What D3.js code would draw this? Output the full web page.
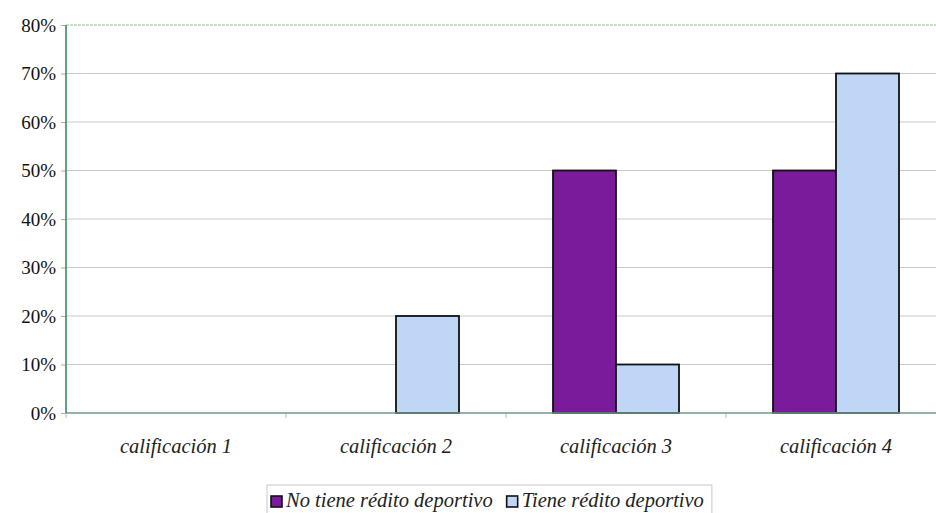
<!DOCTYPE html>
<html><head><meta charset="utf-8">
<script src="https://cdn.jsdelivr.net/npm/d3@7"></script>
<style>html,body{margin:0;padding:0;background:#fff;overflow:hidden}</style>
</head><body>
<svg id="c" width="936" height="513"></svg>
<script>
const categories = ["calificación 1","calificación 2","calificación 3","calificación 4"];
const seriesNames = ["No tiene rédito deportivo","Tiene rédito deportivo"];
const noTiene = [0, 0, 0.5, 0.5];
const tiene = [0, 0.2, 0.1, 0.7];
const yTicks = [0,0.1,0.2,0.3,0.4,0.5,0.6,0.7,0.8];
const colors = ["#7a1b9c","#bfd6f6"];

const svg = d3.select("#c");
const L = 66, R = 946, T = 25, B = 413;
const font = "'Liberation Serif','Times New Roman',serif";

const x = d3.scaleBand().domain(categories).range([L,R]).paddingInner(94/220).paddingOuter(47/220);
const xs = d3.scaleBand().domain(seriesNames).range([0,x.bandwidth()]);
const y = d3.scaleLinear().domain([0,0.8]).range([B,T]);

// gridlines
svg.append("g").selectAll("line").data(yTicks.filter(d=>d>0 && d<0.8)).join("line")
  .attr("x1",L).attr("x2",R).attr("y1",d=>y(d)).attr("y2",d=>y(d))
  .attr("stroke","#c9c9c9").attr("stroke-width",1);
// top border
svg.append("line").attr("x1",L).attr("x2",R).attr("y1",y(0.8)).attr("y2",y(0.8))
  .attr("stroke","#8fc08f").attr("stroke-width",1.2).attr("stroke-dasharray","3,1");

// y axis
const yAxis = d3.axisLeft(y).tickValues(yTicks).tickFormat(d3.format(".0%")).tickSize(5).tickPadding(5);
const gy = svg.append("g").attr("transform",`translate(${L},0)`).call(yAxis);
gy.select(".domain").remove();
gy.selectAll(".tick line").attr("stroke","#aaa");
gy.selectAll(".tick text").attr("font-family",font).attr("font-size",19).attr("fill","#111").attr("dy","0.33em");

// bars
const data = categories.map((c,i)=>({c, vals:[noTiene[i], tiene[i]]}));
const groups = svg.append("g").selectAll("g").data(data).join("g")
  .attr("transform",d=>`translate(${x(d.c)},0)`);
groups.selectAll("rect").data(d=>d.vals.map((v,j)=>({v,j}))).join("rect")
  .filter(d=>d.v>0)
  .attr("x",d=>xs(seriesNames[d.j])).attr("width",xs.bandwidth())
  .attr("y",d=>y(d.v)).attr("height",d=>y(0)-y(d.v))
  .attr("fill",d=>colors[d.j]).attr("stroke","#111").attr("stroke-width",1.8);

// x axis
const step = x.step();
const boundaries = categories.map((c,i)=>L + i*step);
svg.append("g").selectAll("line").data(boundaries).join("line")
  .attr("x1",d=>d).attr("x2",d=>d).attr("y1",B).attr("y2",B+5).attr("stroke","#bbb");
svg.append("line").attr("x1",L).attr("x2",R).attr("y1",B).attr("y2",B).attr("stroke","#6f9a8a").attr("stroke-width",1.5);
svg.append("line").attr("x1",L).attr("x2",L).attr("y1",T).attr("y2",B).attr("stroke","#3d8a60").attr("stroke-width",1.6);

svg.append("g").selectAll("text").data(categories).join("text")
  .attr("x",d=>x(d)+x.bandwidth()/2).attr("y",453)
  .attr("text-anchor","middle").attr("font-family",font).attr("font-style","italic")
  .attr("font-size",20.5).attr("fill","#222").text(d=>d);

// legend
const lg = svg.append("g");
const box = lg.append("rect").attr("x",267).attr("y",485).attr("height",40)
  .attr("fill","#fff").attr("stroke","#c8c8c8");
let cx = 271;
seriesNames.forEach((s,i)=>{
  lg.append("rect").attr("x",cx).attr("y",496).attr("width",11).attr("height",11)
    .attr("fill",colors[i]).attr("stroke","#111").attr("stroke-width",1.6);
  const t = lg.append("text").attr("x",cx+15).attr("y",507).attr("font-family",font)
    .attr("font-style","italic").attr("font-size",20.5).attr("fill","#222").text(s);
  cx += 15 + t.node().getComputedTextLength() + 14;
});
box.attr("width", cx - 14 + 8 - 267);
</script>
</body></html>
